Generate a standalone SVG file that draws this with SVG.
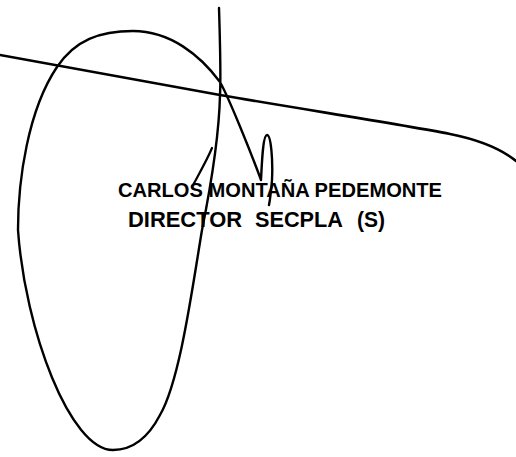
<svg xmlns="http://www.w3.org/2000/svg" width="516" height="457" viewBox="0 0 516 457">
<style>
.pen{fill:none;stroke:#000;stroke-linecap:round;stroke-linejoin:round}
.t{font-family:"Liberation Sans",Arial,sans-serif;font-weight:bold;fill:#000}
</style>
<rect width="516" height="457" fill="#fff"/>
<g id="signature">
<path class="pen" stroke-width="2.6" d="M0,55 L220,95 C300,109 400,124 450,134 C475,139 500,148 516,161"/>
<path class="pen" stroke-width="2.4" d="M219,8 C220,40 221,75 220,95 C219,140 208,200 202,230 C192,290 180,380 160,415 C148,438 132,450 113,450 C70,450 25,330 18,230 C18,180 28,110 57,67 C75,40 100,31 133,31 C170,31 200,55 220,82 C228,96 250,150 261,180 C262,160 263,135 267,135 C271,135 273,160 272,180 C271,192 270,200 269,205"/>
<path class="pen" stroke-width="2.2" d="M212,148 C207,160 200,172 192,187"/>
</g>
<g id="name">
<text class="t" x="118" y="197" font-size="21" textLength="324" lengthAdjust="spacingAndGlyphs">CARLOS MONTAÑA PEDEMONTE</text>
</g>
<g id="title">
<text class="t" x="128" y="227" font-size="22" textLength="114" lengthAdjust="spacingAndGlyphs">DIRECTOR</text>
<text class="t" x="255" y="227" font-size="22" textLength="88" lengthAdjust="spacingAndGlyphs">SECPLA</text>
<text class="t" x="357" y="227" font-size="22" textLength="28" lengthAdjust="spacingAndGlyphs">(S)</text>
</g>
</svg>
